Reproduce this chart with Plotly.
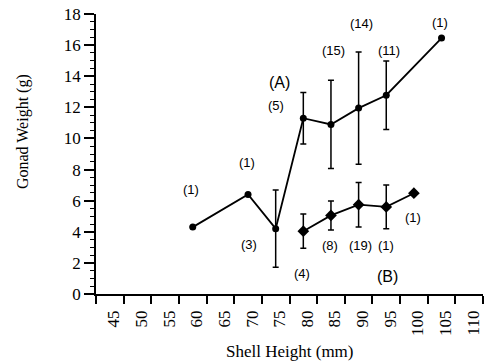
import plotly.graph_objects as go

# Series A (upper, circles)
a_x = [60, 70, 75, 80, 85, 90, 95, 105]
a_y = [4.3, 6.4, 4.2, 11.3, 10.9, 11.95, 12.78, 16.45]
a_err = [0, 0, 2.48, 1.66, 2.84, 3.61, 2.2, 0]

# Series B (lower, diamonds)
b_x = [80, 85, 90, 95, 100]
b_y = [4.04, 5.05, 5.74, 5.6, 6.48]
b_err = [1.1, 0.93, 1.43, 1.41, 0]

# Sample-size labels (text, x, y)
lab_text = ["(1)", "(1)", "(3)", "(5)", "(15)", "(14)", "(11)", "(1)",
            "(4)", "(8)", "(19)", "(1)", "(1)"]
lab_x = [59.7, 69.8, 70.1, 75.0, 85.5, 90.6, 95.5, 104.8,
         79.8, 84.8, 90.4, 94.9, 99.8]
lab_y = [6.7, 8.48, 3.18, 12.12, 15.66, 17.4, 15.66, 17.48,
         1.3, 3.12, 3.12, 3.12, 4.94]

group_text = ["(A)", "(B)"]
group_x = [75.6, 95.2]
group_y = [13.62, 1.13]

x_ticks = [45, 50, 55, 60, 65, 70, 75, 80, 85, 90, 95, 100, 105, 110]
x_bounds = [42.5 + 5 * i for i in range(15)]

SERIF = "Liberation Serif"
SANS = "Liberation Sans"

fig = go.Figure()
fig.add_trace(go.Scatter(
    x=a_x, y=a_y, mode="lines+markers",
    line=dict(color="black", width=1.8),
    marker=dict(symbol="circle", size=7, color="black"),
    error_y=dict(type="data", array=a_err, visible=True, color="black",
                 thickness=1.5, width=3),
    showlegend=False))
fig.add_trace(go.Scatter(
    x=b_x, y=b_y, mode="lines+markers",
    line=dict(color="black", width=1.8),
    marker=dict(symbol="diamond", size=9, color="black"),
    error_y=dict(type="data", array=b_err, visible=True, color="black",
                 thickness=1.5, width=3),
    showlegend=False))

for t, x, y in zip(lab_text, lab_x, lab_y):
    fig.add_annotation(x=x, y=y, text=t, showarrow=False,
                       font=dict(family=SANS, size=13, color="black"))
for t, x, y in zip(group_text, group_x, group_y):
    fig.add_annotation(x=x, y=y, text=t, showarrow=False,
                       font=dict(family=SANS, size=16, color="black"))

fig.add_annotation(xref="paper", yref="paper", x=-0.19, y=0.58,
                   xanchor="center", yanchor="middle",
                   text="Gonad Weight (g)", textangle=-90, showarrow=False,
                   font=dict(family=SERIF, size=16, color="black"))
fig.add_annotation(xref="paper", yref="paper", x=0.5, y=-0.205,
                   xanchor="center", yanchor="middle",
                   text="Shell Height (mm)", showarrow=False,
                   font=dict(family=SERIF, size=17, color="black"))

fig.update_layout(
    width=485, height=362,
    margin=dict(l=96, r=2, t=14, b=68, autoexpand=False),
    paper_bgcolor="white", plot_bgcolor="white",
    font=dict(family=SERIF, size=17, color="black"),
    xaxis=dict(
        range=[42.5, 112.5], showgrid=False, zeroline=False, automargin=False,
        showline=True, linecolor="black", linewidth=1.5,
        tickmode="array", tickvals=x_ticks, ticktext=[str(v) for v in x_ticks],
        ticks="outside", ticklen=0, tickangle=-90,
        tickfont=dict(family=SERIF, size=17, color="black"),
        ticklabelstandoff=8, ticklabelshift=4,
        minor=dict(tickmode="array", tickvals=x_bounds, ticks="outside",
                   ticklen=8, tickwidth=1.5, tickcolor="black", showgrid=False),
    ),
    yaxis=dict(
        range=[0, 18], showgrid=False, zeroline=False, automargin=False,
        showline=True, linecolor="black", linewidth=1.5,
        tickmode="linear", tick0=0, dtick=2,
        ticks="outside", ticklen=10, tickwidth=1.5, tickcolor="black",
        tickfont=dict(family=SERIF, size=17, color="black"),
        minor=dict(tickmode="linear", tick0=0, dtick=0.5, ticks="outside",
                   ticklen=4, tickwidth=1, tickcolor="black", showgrid=False),
    ),
)

fig.write_html(
    "out.html",
    config={"displayModeBar": False},
    post_script="document.body.style.margin='0';document.body.style.padding='0';",
)
